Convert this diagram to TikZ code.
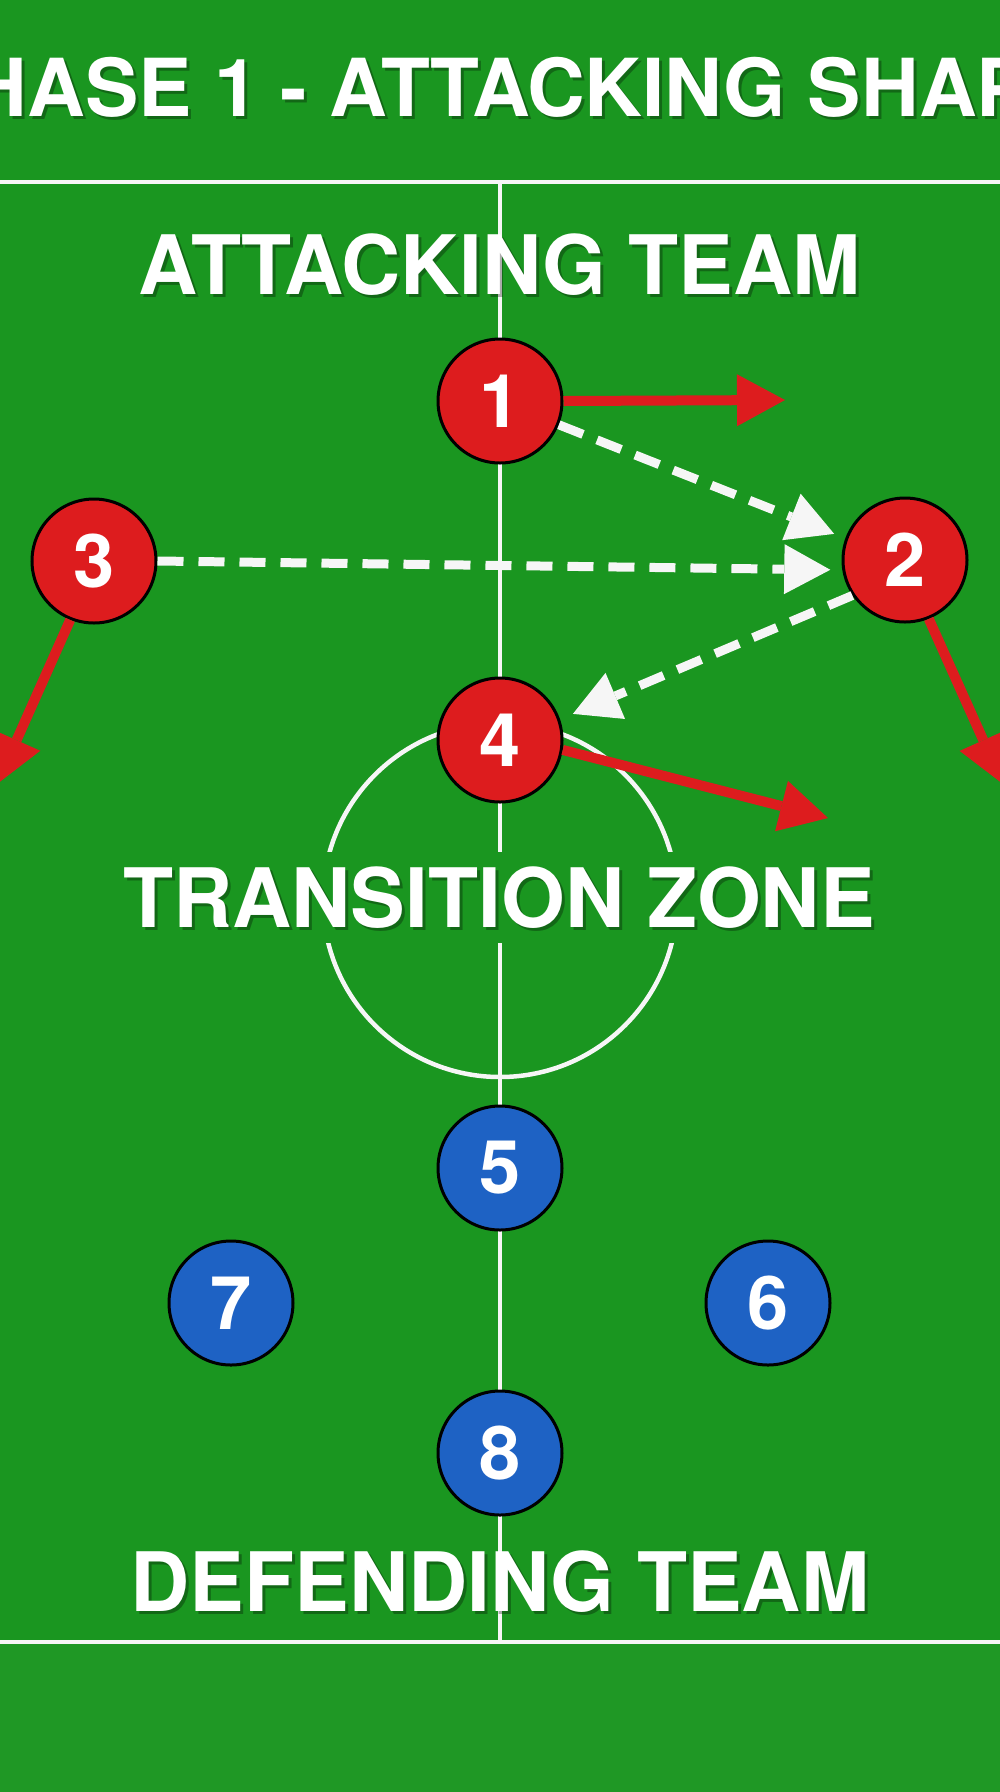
\documentclass[tikz,border=0pt]{standalone}
\usepackage{fontspec}
\setmainfont{TeX Gyre Heros}
\usetikzlibrary{arrows.meta}
\definecolor{pitch}{RGB}{26,150,32}
\definecolor{pitchlow}{RGB}{31,152,37}
\definecolor{redp}{RGB}{221,28,30}
\definecolor{bluep}{RGB}{30,98,196}
\definecolor{chalk}{RGB}{246,246,246}
\tikzset{
  markline/.style={draw=chalk, line width=4.5pt},
  player/.style={circle, draw=black, line width=3pt, minimum size=124pt, inner sep=0pt,
    text=white, font=\fontsize{74}{74}\selectfont\bfseries},
  attacker/.style={player, fill=redp},
  defender/.style={player, fill=bluep},
  run/.style={draw=redp, line width=10pt,
    -{Triangle[length=48pt,width=52pt,line width=0pt]}},
  pass/.style={draw=chalk, line width=9pt, dash pattern=on 26pt off 15pt,
    -{Triangle[length=46pt,width=50pt,line width=0pt]}},
  heading/.style={font=\fontsize{82}{82}\selectfont\bfseries, text=white, inner sep=0pt},
  titletext/.style={heading, font=\fontsize{80}{80}\selectfont\bfseries},
  shade/.style={text=black, opacity=0.3},
  zonebg/.style={fill=pitch, minimum width=800pt, minimum height=91pt, inner sep=0pt},
}
\begin{document}
\begin{tikzpicture}[x=1pt,y=-1pt]
  \path[use as bounding box] (0,0) rectangle (1000,1792);
  \clip (0,0) rectangle (1000,1792);
  % background
  \fill[pitch] (0,0) rectangle (1000,1792);
  \fill[pitchlow] (0,1644) rectangle (1000,1792);
  % pitch markings
  \draw[markline] (0,182) -- (1000,182);
  \draw[markline] (0,1642) -- (1000,1642);
  \draw[markline] (500,182) -- (500,1642);
  \draw[markline] (500,900) circle[radius=177pt];
  \node[zonebg] (zonebox) at (500,897) {};
  % texts
  \node[titletext, shade] (titleS) at (503,90) {PHASE 1 - ATTACKING SHAPE};
  \node[titletext] (title) at (500,87) {PHASE 1 - ATTACKING SHAPE};
  \node[heading, shade] (attS) at (503,268) {ATTACKING TEAM};
  \node[heading] (att) at (500,265) {ATTACKING TEAM};
  \node[heading, shade] (zoneS) at (502,901) {TRANSITION ZONE};
  \node[heading] (zone) at (499,898) {TRANSITION ZONE};
  \node[heading, shade] (defS) at (503,1585) {DEFENDING TEAM};
  \node[heading] (def) at (500,1582) {DEFENDING TEAM};
  % players
  \node[attacker] (n1) at (500,401) {1};
  \node[attacker] (n2) at (905,560) {2};
  \node[attacker] (n3) at (94,561) {3};
  \node[attacker] (n4) at (500,740) {4};
  \node[defender] (n5) at (500,1168) {5};
  \node[defender] (n6) at (768,1303) {6};
  \node[defender] (n7) at (231,1303) {7};
  \node[defender] (n8) at (500,1453) {8};
  % free ends of runs
  \coordinate (r1) at (785,400);
  \coordinate (r2) at (1003,784);
  \coordinate (r3) at (-3,784);
  \coordinate (r4) at (828,818);
  % passes
  \draw[pass, shorten >=12pt] (n1.-22) -- (n2.160);
  \draw[pass, shorten >=12pt] (n3.east) -- (n2.189);
  \draw[pass, shorten >=14pt] (n2.214) -- (n4.19);
  % runs
  \draw[run] (n1.east) -- (r1);
  \draw[run] (n2.292) -- (r2);
  \draw[run] (n3.248) -- (r3);
  \draw[run] (n4.-9) -- (r4);
\end{tikzpicture}
\end{document}
